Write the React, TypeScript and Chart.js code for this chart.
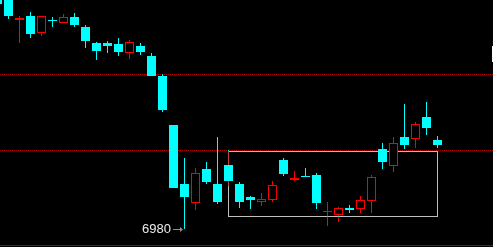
import React, { useEffect, useRef } from "react";
import { Chart, registerables } from "chart.js";

Chart.register(...registerables);

// Candle data (price units), index = candle position
const opens = [7212, 7211, 7189, 7193, 7176, 7189, 7186, 7192, 7182, 7166, 7166, 7165, 7156, 7163, 7153, 7133, 7084, 7025, 7006, 7040, 7025, 7044, 7025, 7012, 7007, 7009, 7049, 7029, 7033, 7034, 6997, 6994, 7001, 7000, 7008, 7060, 7043, 7072, 7070, 7092, 7069];
const highs = [7214, 7213, 7193, 7197, 7193, 7192, 7195, 7196, 7184, 7167, 7168, 7171, 7169, 7166, 7156, 7135, 7084, 7051, 7041, 7047, 7072, 7059, 7027, 7013, 7016, 7028, 7051, 7038, 7041, 7036, 7007, 7002, 7004, 7013, 7034, 7066, 7072, 7105, 7087, 7107, 7073];
const lows = [7203, 7190, 7166, 7171, 7173, 7182, 7186, 7182, 7161, 7149, 7156, 7153, 7150, 7154, 7133, 7097, 7021, 6980, 6999, 7025, 7005, 7023, 7001, 7000, 7003, 7007, 7033, 7028, 7032, 7000, 6983, 6987, 6996, 6996, 6996, 7040, 7037, 7060, 7061, 7074, 7061];
const closes = [7205, 7193, 7191, 7175, 7193, 7188, 7192, 7184, 7168, 7158, 7163, 7157, 7167, 7157, 7133, 7099, 7021, 7012, 7036, 7027, 7007, 7028, 7007, 7009, 7010, 7024, 7035, 7031, 7032, 7006, 6998, 7001, 6999, 7009, 7032, 7047, 7066, 7064, 7085, 7081, 7064];

// Horizontal price levels
const levels = [7135, 7059];

// Consolidation box (candle indices and prices)
const boxStartIndex = 21;
const boxEndIndex = 40;
const boxHigh = 7058;
const boxLow = 6993;

// Marked low
const markIndex = 17;

// Visible ranges
const xMin = 2.5 / 11;
const xMax = 495.5 / 11;
const yMin = 6962;
const yMax = 7209;

const UP = "#ff0000";
const DOWN = "#00ffff";

export default function App() {
  const ref = useRef<HTMLCanvasElement | null>(null);

  useEffect(() => {
    if (!ref.current) return;
    const rising = opens.map((o, i) => closes[i] > o);

    const overlay = {
      id: "overlay",
      beforeDatasetsDraw(chart: any) {
        const { ctx, chartArea, scales } = chart;
        const y = scales.y;
        ctx.save();
        ctx.strokeStyle = "#b00000";
        ctx.lineWidth = 1;
        ctx.setLineDash([1, 1]);
        levels.forEach((v) => {
          const py = Math.round(y.getPixelForValue(v)) + 0.5;
          ctx.beginPath();
          ctx.moveTo(chartArea.left, py);
          ctx.lineTo(chartArea.right, py);
          ctx.stroke();
        });
        ctx.restore();
      },
      afterDatasetDraw(chart: any, args: any) {
        if (args.index !== 1) return;
        const { ctx, scales } = chart;
        const x = scales.x;
        const y = scales.y;
        const x0 = Math.floor(x.getPixelForValue(boxStartIndex)) + 0.5;
        const x1 = Math.floor(x.getPixelForValue(boxEndIndex)) + 0.5;
        const y0 = Math.round(y.getPixelForValue(boxHigh)) + 0.5;
        const y1 = Math.round(y.getPixelForValue(boxLow)) + 0.5;
        ctx.save();
        ctx.globalCompositeOperation = "difference";
        ctx.strokeStyle = "#c0c0c0";
        ctx.lineWidth = 1;
        ctx.strokeRect(x0, y0, x1 - x0, y1 - y0);
        ctx.restore();
      },
      afterDatasetsDraw(chart: any) {
        const { ctx, chartArea, scales } = chart;
        const x = scales.x;
        const y = scales.y;
        ctx.save();
        // bottom frame line
        ctx.fillStyle = "#a00000";
        ctx.fillRect(chartArea.left, chartArea.bottom - 2, chartArea.right - chartArea.left, 1);
        // right edge marker
        ctx.fillStyle = "#ffffff";
        ctx.fillRect(chartArea.right - 1, 46, 1, 16);
        // low arrow + label
        const cx = Math.floor(x.getPixelForValue(markIndex));
        const py = Math.round(y.getPixelForValue(lows[markIndex])) + 0.5;
        ctx.strokeStyle = "#909090";
        ctx.fillStyle = "#909090";
        ctx.lineWidth = 1;
        ctx.beginPath();
        ctx.moveTo(cx - 11, py);
        ctx.lineTo(cx - 2, py);
        ctx.stroke();
        ctx.beginPath();
        ctx.moveTo(cx - 1, py);
        ctx.lineTo(cx - 4, py - 2.5);
        ctx.lineTo(cx - 4, py + 2.5);
        ctx.closePath();
        ctx.fill();
        ctx.fillStyle = "#ececec";
        ctx.font = "13px 'Liberation Sans', Arial, sans-serif";
        ctx.textAlign = "right";
        ctx.textBaseline = "middle";
        ctx.fillText(String(lows[markIndex]), cx - 13, py);
        ctx.restore();
      },
    };

    const chart = new Chart(ref.current, {
      type: "bar",
      data: {
        datasets: [
          {
            label: "body",
            order: 0,
            data: opens.map((o, i) => ({ x: i, y: [o, closes[i]] })) as any,
            backgroundColor: rising.map((r) => (r ? "#000000" : DOWN)),
            borderColor: rising.map((r) => (r ? UP : DOWN)),
            borderWidth: rising.map((r) => (r ? 1 : 0)),
            borderSkipped: false,
            barThickness: 9,
            grouped: false,
            inflateAmount: 0,
          } as any,
          {
            label: "wick",
            order: 1,
            data: lows.map((l, i) => ({ x: i, y: [l, highs[i]] })) as any,
            backgroundColor: rising.map((r) => (r ? UP : DOWN)),
            borderWidth: 0,
            barThickness: 1,
            grouped: false,
            inflateAmount: 0,
          } as any,
        ],
      },
      options: {
        animation: false,
        responsive: false,
        devicePixelRatio: 1,
        layout: { padding: 0 },
        events: [],
        plugins: {
          legend: { display: false },
          tooltip: { enabled: false },
        },
        scales: {
          x: { type: "linear", min: xMin, max: xMax, display: false, offset: false },
          y: { type: "linear", min: yMin, max: yMax, display: false, beginAtZero: false },
        },
      } as any,
      plugins: [overlay],
    });
    return () => chart.destroy();
  }, []);

  return (
    <div style={{ position: "fixed", left: 0, top: 0, width: 493, height: 247, background: "#000" }}>
      <canvas ref={ref} width={493} height={247} style={{ display: "block" }} />
    </div>
  );
}
